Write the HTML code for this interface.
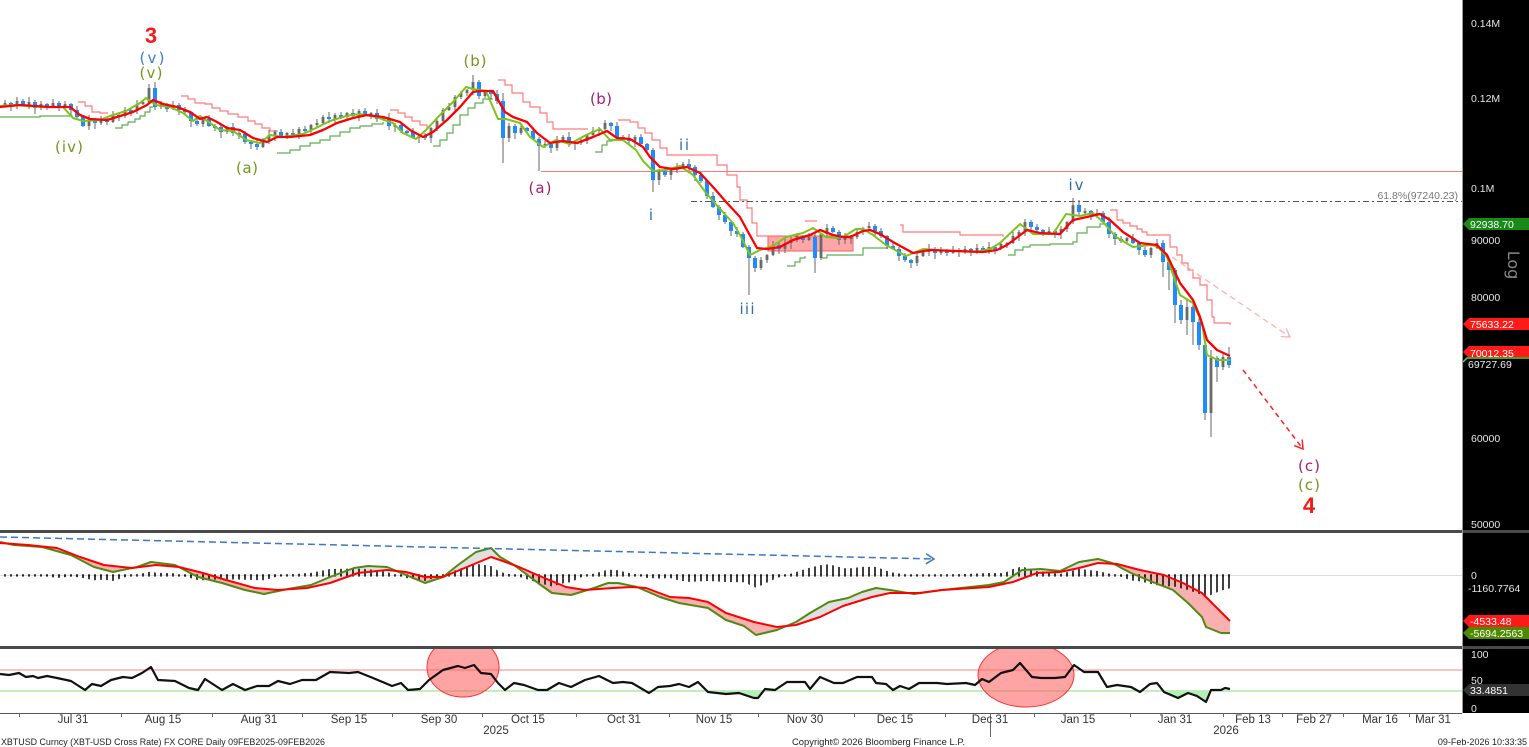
<!DOCTYPE html>
<html><head><meta charset="utf-8">
<style>
html,body{margin:0;padding:0;background:#fff;overflow:hidden;}
svg{display:block;}
</style></head>
<body>
<svg width="1529" height="747" xmlns="http://www.w3.org/2000/svg">
<defs>
<clipPath id="rsiclip"><rect x="0" y="649" width="1462" height="64"/></clipPath>
<clipPath id="rsilow"><rect x="0" y="691" width="1462" height="22"/></clipPath>
<clipPath id="macdclip"><rect x="0" y="533" width="1462" height="113"/></clipPath>
<clipPath id="belowRed"><polygon points="0,543 28,545 57,548 80,557 104,565 132,568 156,565 179,567 203,573 226,580 255,588 278,590 307,588 330,583 358,573 387,570 406,572 425,577 443,577 467,567 491,557 500,560 519,567 542,577 566,587 585,590 613,588 632,587 646,588 670,597 689,598 708,602 726,613 754,622 777,627 796,625 820,617 843,606 872,597 890,593 919,593 942,590 989,587 1013,582 1037,573 1060,572 1079,568 1098,563 1117,564 1140,570 1164,575 1183,583 1202,593 1216,607 1230,621 1230,700 0,700"/></clipPath>
<clipPath id="belowGreen"><polygon points="0,542 14,545 42,547 71,555 94,567 113,572 137,567 151,562 175,565 198,577 222,583 245,590 264,594 288,589 311,585 330,577 354,568 368,566 387,567 406,575 425,583 443,577 458,565 476,552 491,548 500,557 514,565 538,583 552,593 571,595 594,588 608,583 618,583 637,587 660,597 679,603 708,608 726,620 744,626 756,635 777,630 796,622 810,613 829,602 848,598 862,592 876,588 890,590 914,594 942,590 989,585 1004,582 1022,570 1041,569 1060,571 1079,562 1098,559 1112,563 1131,573 1155,583 1173,590 1188,603 1202,617 1206,627 1221,633 1230,633 1230,700 0,700"/></clipPath>
<pattern id="hp" x="2" y="0" width="6" height="10" patternUnits="userSpaceOnUse"><rect x="2.2" y="0" width="1.6" height="10" fill="#111"/></pattern>
</defs>
<rect x="0" y="0" width="1529" height="747" fill="#fff"/>

<!-- ================= MAIN PANEL ================= -->
<g fill="none" stroke="#ff7a7a" stroke-width="1.2">
<path d="M78,102 H85 V106 H92 V112 H100 V113 H108"/>
<path d="M181,96 H188 V99 H195 V103 H205 V104 H212 V108 H220 V111 H228 V114 H238 V117 H248 V121 H255 V124 H262 V128 H270 V131 H277 V132"/>
<path d="M390,110 H398 V113 H405 V117 H412 V121 H420 V125 H427 V128"/>
<path d="M498,80 H505 V85 H512 V93 H523 V102 H530 V107 H540 V113 H547 V122 H553 V129 H588"/>
<path d="M618,120 H630 V122 H638 V128 H645 V133 H652 V140 H660 V148 H667 V155 H710 V155 H717 V165 H727 V175 H737 V187 H740 V200 H747 V208 H752 V223 H757 V236 H768"/>
<path d="M805,221 H817"/>
<path d="M900,225 H903 V232 H960 V235 H1003 V237"/>
<path d="M1110,210 H1117 V220 H1123 V223 H1130 V226 H1137 V229 H1142 V232 H1147 V235 H1170 V247 H1177 V255 H1182 V263 H1188 V270 H1193 V278 H1200 V285 H1207 V300 H1212 V317 H1214 V323 H1230 V325"/>
</g>
<g fill="none" stroke="#5fae55" stroke-width="1.2">
<path d="M0,117 H40 V116 H72 V115"/>
<path d="M115,128 H122 V125 H128 V122 H135 V119 H140 V116 H145 V112 H150 V107 H153"/>
<path d="M277,153 H290 V150 H300 V146 H310 V143 H320 V140 H330 V136 H340 V132 H350 V128 H360 V126 H372 V124 H383 V122"/>
<path d="M433,146 H440 V140 H447 V133 H453 V125 H460 V115 H468 V108 H475 V103 H483 V99 H493"/>
<path d="M595,152 H602 V145 H607 V141 H612 V140"/>
<path d="M787,266 H795 V262 H800 V258 H805 V256"/>
<path d="M822,258 H827 V255 H863 V248 H888"/>
<path d="M1008,255 H1015 V250 H1023 V247 H1030 V245 H1050 V244 H1073 V242 H1077 V233 H1087 V227 H1100 V224 H1107 V223"/>
</g>
<line x1="541" y1="171.5" x2="1462" y2="171.5" stroke="#f77" stroke-width="1"/>
<line x1="691" y1="201.5" x2="1462" y2="201.5" stroke="#555" stroke-width="1" stroke-dasharray="6,3,2,3"/>
<rect x="768" y="236" width="85" height="15" fill="#ff4d4d" fill-opacity="0.5" stroke="#ff5a5a" stroke-width="1"/>

<!-- candle wicks -->
<path fill="none" stroke="#666" stroke-width="1" d="M5 100V106 M11 102V111 M17 97V109 M23 99V106 M29 97V109 M35 100V114 M41 101V110 M47 103V110 M53 99V108 M59 101V111 M65 101V108 M71 103V115 M77 106V120 M83 115V127 M89 115V130 M95 118V129 M101 116V125 M107 118V125 M113 111V123 M119 113V121 M125 107V118 M131 109V116 M137 100V114 M143 100V105 M149 84V104 M155 82V110 M161 101V109 M167 103V112 M173 101V110 M179 103V115 M185 107V114 M191 111V127 M197 118V126 M203 118V127 M209 115V127 M215 124V131 M221 124V138 M227 126V134 M233 123V136 M239 131V139 M245 131V144 M251 141V149 M257 140V150 M263 138V148 M269 130V144 M275 130V141 M281 129V138 M287 132V139 M293 129V135 M299 127V139 M305 126V132 M311 124V135 M317 119V128 M323 115V124 M329 112V123 M335 113V125 M341 112V119 M347 112V120 M353 109V117 M359 109V121 M365 108V116 M371 112V119 M377 109V122 M383 116V120 M389 113V130 M395 123V132 M401 122V133 M407 130V135 M413 128V139 M419 134V143 M425 133V140 M431 127V143 M437 117V131 M443 108V122 M449 103V111 M455 95V112 M461 91V99 M467 89V96 M473 75V95 M479 80V99 M485 90V98 M491 91V99 M497 90V104 M503 93V163 M509 123V142 M515 124V139 M521 125V135 M527 127V134 M533 127V140 M539 137V171 M545 141V148 M551 143V153 M557 136V151 M563 135V141 M569 132V147 M575 140V150 M581 138V145 M587 134V144 M593 127V136 M599 127V136 M605 120V131 M611 122V131 M617 122V140 M623 135V140 M629 134V145 M635 135V147 M641 134V146 M647 143V153 M653 148V192 M659 169V185 M665 168V177 M671 169V180 M677 163V173 M683 162V168 M689 159V171 M695 165V181 M701 172V183 M707 180V199 M713 192V208 M719 205V220 M725 212V224 M731 221V236 M737 227V237 M743 232V248 M749 245V295 M755 256V272 M761 257V270 M767 254V263 M773 241V256 M779 243V254 M785 238V253 M791 236V249 M797 233V242 M803 235V243 M809 233V241 M815 233V273 M821 233V260 M827 224V237 M833 226V233 M839 230V245 M845 233V244 M851 235V244 M857 229V239 M863 227V235 M869 222V229 M875 224V236 M881 228V238 M887 235V249 M893 242V250 M899 247V261 M905 253V262 M911 259V268 M917 252V266 M923 250V257 M929 244V256 M935 247V259 M941 247V255 M947 249V256 M953 246V254 M959 248V257 M965 246V254 M971 248V256 M977 244V254 M983 246V251 M989 242V254 M995 245V254 M1001 241V250 M1007 242V248 M1013 232V244 M1019 230V241 M1025 219V236 M1031 220V233 M1037 224V232 M1043 229V236 M1049 227V234 M1055 229V238 M1061 226V239 M1067 221V232 M1073 198V224 M1079 200V215 M1085 208V214 M1091 210V220 M1097 209V218 M1103 211V223 M1109 217V238 M1115 232V245 M1121 236V243 M1127 237V244 M1133 234V244 M1139 241V255 M1145 247V257 M1151 247V258 M1157 239V249 M1163 240V277 M1169 258V290 M1175 268V323 M1181 300V324 M1187 300V335 M1193 300V345 M1199 318V350 M1205 343V420 M1211 350V437 M1217 356V382 M1223 352V370 M1229 347V368"/>
<!-- down (blue) bodies -->
<path fill="none" stroke="#1e8bff" stroke-width="4" d="M11 103V106 M23 101V105 M35 102V108 M47 104V107 M59 103V106 M71 104V110 M77 110V117 M83 117V126 M95 120V123 M107 119V122 M119 115V117 M131 110V112 M155 88V107 M167 104V109 M179 105V110 M185 110V112 M191 112V121 M197 121V124 M209 119V126 M215 126V128 M221 127V132 M233 127V133 M239 133V135 M245 134V142 M251 142V144 M257 144V147 M281 132V136 M293 133V135 M305 129V131 M329 117V119 M341 115V117 M353 113V116 M365 111V114 M377 113V119 M389 118V126 M401 125V131 M407 131V133 M413 132V138 M425 136V138 M479 82V96 M491 92V94 M497 94V101 M503 101V138 M515 126V133 M527 128V131 M533 131V139 M539 139V146 M551 144V148 M569 137V143 M611 123V126 M617 126V137 M623 137V139 M629 139V141 M641 137V144 M647 144V150 M653 150V180 M665 171V175 M689 164V167 M695 167V175 M701 175V181 M707 181V196 M713 196V207 M719 207V215 M725 215V222 M731 222V231 M737 231V234 M743 234V247 M749 247V258 M755 258V268 M779 245V249 M803 236V240 M815 237V258 M833 228V232 M839 232V240 M875 226V231 M881 231V236 M887 236V246 M893 246V249 M899 249V256 M905 256V260 M911 260V263 M935 249V253 M947 250V253 M959 250V252 M971 249V251 M983 248V250 M995 247V249 M1031 222V227 M1037 227V230 M1043 230V233 M1055 231V233 M1079 205V212 M1091 211V215 M1103 213V222 M1109 222V234 M1115 234V239 M1121 239V241 M1133 238V243 M1139 243V250 M1145 250V255 M1163 243V262 M1169 262V270 M1175 270V305 M1181 305V320 M1193 307V322 M1199 322V345 M1205 345V413 M1217 358V367 M1229 357V365"/>
<!-- up (gray) bodies -->
<path fill="none" stroke="#6a6a6a" stroke-width="2.8" d="M5 103V105 M17 101V106 M29 102V105 M41 104V108 M53 103V107 M65 104V106 M89 120V126 M101 119V123 M113 115V122 M125 110V116 M137 104V111 M143 102V104 M149 88V102 M161 104V107 M173 105V109 M203 119V124 M227 127V132 M263 140V147 M269 135V140 M275 132V135 M287 133V136 M299 129V134 M311 125V130 M317 123V125 M323 117V123 M335 115V119 M347 113V117 M359 111V116 M371 113V115 M383 118V120 M395 125V127 M419 136V138 M431 128V138 M437 121V128 M443 110V121 M449 107V110 M455 97V107 M461 93V97 M467 90V93 M473 82V90 M485 92V96 M509 126V138 M521 128V133 M545 144V146 M557 140V148 M563 137V140 M575 142V144 M581 141V143 M587 135V141 M593 131V135 M599 129V131 M605 123V129 M635 137V141 M659 171V180 M671 170V175 M677 167V170 M683 164V167 M761 260V268 M767 255V260 M773 245V255 M785 243V249 M791 240V243 M797 236V240 M809 237V240 M821 234V258 M827 228V234 M845 238V240 M851 237V239 M857 232V237 M863 228V232 M869 226V228 M917 256V263 M923 252V256 M929 249V252 M941 250V253 M953 250V253 M965 249V252 M977 248V251 M989 247V250 M1001 244V248 M1007 243V245 M1013 236V243 M1019 232V236 M1025 222V232 M1049 231V233 M1061 229V233 M1067 222V229 M1073 205V222 M1085 211V213 M1097 213V215 M1127 238V241 M1151 248V255 M1157 243V248 M1187 307V320 M1211 358V413 M1223 357V367"/>

<!-- moving averages -->
<polyline fill="none" stroke="#7cc41a" stroke-width="2" stroke-linejoin="round" points="0,106 13,105 43,107 63,107 73,118 83,121 100,120 110,116 126,111 140,103 146,98 156,105 170,107 183,113 193,121 200,116 210,123 220,130 233,131 246,140 260,143 270,135 283,137 303,134 316,128 330,121 346,116 360,114 376,117 393,123 403,133 416,139 426,130 440,115 453,102 466,87 473,89 486,91 498,119 506,119 520,123 530,137 543,147 556,140 570,144 586,135 600,129 610,140 623,140 636,150 643,161 653,171 666,170 680,166 693,175 706,193 720,209 733,223 740,235 750,255 760,250 773,246 786,237 803,233 813,228 826,237 836,238 843,237 856,229 863,229 873,235 886,245 906,256 923,249 950,251 976,252 990,249 1000,243 1020,224 1033,234 1053,234 1066,214 1080,216 1093,213 1103,222 1116,237 1133,247 1150,245 1157,246 1167,257 1180,295 1193,303 1202,323 1207,355 1218,360 1230,360"/>
<polyline fill="none" stroke="#ff0000" stroke-width="2.3" stroke-linejoin="round" points="0,107 20,105 50,107 70,107 80,115 90,119 107,120 117,117 133,112 147,105 153,100 163,104 177,107 190,112 200,119 207,117 217,122 227,128 240,130 253,138 267,142 277,137 290,137 310,135 323,130 337,123 353,118 367,115 383,117 400,122 410,130 423,137 433,132 447,120 460,107 473,92 480,91 493,91 505,112 513,117 527,122 537,133 550,143 563,141 577,143 593,137 607,131 617,138 630,139 643,147 650,157 660,167 673,169 687,167 700,173 713,187 727,203 740,217 747,230 757,248 767,249 780,247 793,240 810,235 820,230 833,235 843,237 850,237 863,231 870,230 880,234 893,242 913,253 930,250 957,251 983,252 997,250 1007,245 1027,230 1040,233 1060,234 1073,220 1087,217 1100,214 1110,220 1123,232 1140,243 1157,245 1167,255 1180,283 1193,300 1200,317 1207,340 1217,350 1230,356"/>

<!-- projection arrows -->
<line x1="1172" y1="257" x2="1290" y2="337" stroke="#ffb0b0" stroke-width="1.3" stroke-dasharray="6,4"/>
<polyline points="1280.6,336.6 1290,337 1286.2,328.4" fill="none" stroke="#ffb0b0" stroke-width="1.3"/>
<line x1="1243" y1="370" x2="1303" y2="449" stroke="#ff2020" stroke-width="1.5" stroke-dasharray="5,4"/>
<polyline points="1294.2,445.6 1303,449 1302.2,439.6" fill="none" stroke="#ff2020" stroke-width="1.5"/>

<text x="1458" y="199" font-family="Liberation Sans, sans-serif" font-size="10.5" fill="#777" text-anchor="end">61.8%(97240.23)</text>

<!-- wave labels -->
<g font-family="DejaVu Sans, Liberation Sans, sans-serif" font-size="15" text-anchor="middle">
<text x="151" y="43" font-family="Liberation Sans, sans-serif" font-size="22" font-weight="bold" fill="#f41a1a">3</text>
<text x="152" y="63" fill="#3d7fc4" textLength="25" lengthAdjust="spacing">(v)</text>
<text x="151" y="78" fill="#74961a" textLength="23" lengthAdjust="spacing">(v)</text>
<text x="69" y="152" fill="#74961a" textLength="28" lengthAdjust="spacing">(iv)</text>
<text x="247" y="173" fill="#74961a" textLength="22" lengthAdjust="spacing">(a)</text>
<text x="475" y="66" fill="#74961a" textLength="23" lengthAdjust="spacing">(b)</text>
<text x="601" y="104" fill="#a3206b" textLength="22" lengthAdjust="spacing">(b)</text>
<text x="540" y="193" fill="#a3206b" textLength="23" lengthAdjust="spacing">(a)</text>
<text x="651" y="220" fill="#2e6ea6">i</text>
<text x="684" y="150" fill="#2e6ea6" textLength="10" lengthAdjust="spacing">ii</text>
<text x="747" y="314" fill="#2e6ea6" textLength="15" lengthAdjust="spacing">iii</text>
<text x="1076" y="190" fill="#2e6ea6" textLength="15" lengthAdjust="spacing">iv</text>
<text x="1309" y="471" fill="#a3206b" textLength="22" lengthAdjust="spacing">(c)</text>
<text x="1309" y="490" fill="#74961a" textLength="22" lengthAdjust="spacing">(c)</text>
<text x="1309" y="513" font-family="Liberation Sans, sans-serif" font-size="22" font-weight="bold" fill="#f41a1a">4</text>
</g>

<!-- ================= MACD PANEL ================= -->
<line x1="0" y1="575.5" x2="1462" y2="575.5" stroke="#dcdcdc" stroke-width="1"/>
<g clip-path="url(#macdclip)">
<polygon clip-path="url(#belowRed)" fill="#f9b0b0" points="0,542 14,545 42,547 71,555 94,567 113,572 137,567 151,562 175,565 198,577 222,583 245,590 264,594 288,589 311,585 330,577 354,568 368,566 387,567 406,575 425,583 443,577 458,565 476,552 491,548 500,557 514,565 538,583 552,593 571,595 594,588 608,583 618,583 637,587 660,597 679,603 708,608 726,620 744,626 756,635 777,630 796,622 810,613 829,602 848,598 862,592 876,588 890,590 914,594 942,590 989,585 1004,582 1022,570 1041,569 1060,571 1079,562 1098,559 1112,563 1131,573 1155,583 1173,590 1188,603 1202,617 1206,627 1221,633 1230,633 1230,520 0,520"/>
<polygon clip-path="url(#belowGreen)" fill="#e0e0e0" points="0,543 28,545 57,548 80,557 104,565 132,568 156,565 179,567 203,573 226,580 255,588 278,590 307,588 330,583 358,573 387,570 406,572 425,577 443,577 467,567 491,557 500,560 519,567 542,577 566,587 585,590 613,588 632,587 646,588 670,597 689,598 708,602 726,613 754,622 777,627 796,625 820,617 843,606 872,597 890,593 919,593 942,590 989,587 1013,582 1037,573 1060,572 1079,568 1098,563 1117,564 1140,570 1164,575 1183,583 1202,593 1216,607 1230,621 1230,520 0,520"/>
<rect x="0" y="574.2" width="1232" height="2.4" fill="url(#hp)"/>
<polygon fill="url(#hp)" points="0,574 14,576 28,575.7 42,575.5 57,578 71,576.5 80,577.5 94,580.3 104,579.6 113,581 132,575 137,574.6 151,571.4 156,572.7 175,573.3 179,575 198,580.3 203,580.3 222,579.2 245,579.8 264,580.2 278,576.4 288,574.7 307,573 311,572.9 330,569 354,568.6 368,569 387,572 406,578 425,581 443,575 458,569.2 467,566.5 476,563.7 491,566 500,572 514,575 519,576.8 538,582.7 552,586.5 566,582.6 571,582.2 585,575.4 594,573.6 608,569.6 618,570.3 632,573.7 637,574.6 646,577.9 660,578.6 670,578 679,580.5 689,581.9 708,581 726,582 744,582.2 756,587.7 777,578 796,572 810,567.6 820,565.2 829,564.2 843,568 848,568.6 862,566.9 876,566.9 890,572 914,576 919,575.4 942,575 989,573 1004,573.1 1013,569 1022,566.4 1037,571.2 1041,571.2 1060,574 1079,569 1098,571 1112,574.3 1117,575.3 1131,580.5 1140,581.4 1155,584.9 1164,586.5 1173,586.2 1183,588.9 1188,590 1202,595 1206,597 1211,595 1220,591 1231,588 1231,575 0,575"/>
<polyline fill="none" stroke="#4f8a10" stroke-width="2" stroke-linejoin="round" points="0,542 14,545 42,547 71,555 94,567 113,572 137,567 151,562 175,565 198,577 222,583 245,590 264,594 288,589 311,585 330,577 354,568 368,566 387,567 406,575 425,583 443,577 458,565 476,552 491,548 500,557 514,565 538,583 552,593 571,595 594,588 608,583 618,583 637,587 660,597 679,603 708,608 726,620 744,626 756,635 777,630 796,622 810,613 829,602 848,598 862,592 876,588 890,590 914,594 942,590 989,585 1004,582 1022,570 1041,569 1060,571 1079,562 1098,559 1112,563 1131,573 1155,583 1173,590 1188,603 1202,617 1206,627 1221,633 1230,633"/>
<polyline fill="none" stroke="#ff0000" stroke-width="2" stroke-linejoin="round" points="0,543 28,545 57,548 80,557 104,565 132,568 156,565 179,567 203,573 226,580 255,588 278,590 307,588 330,583 358,573 387,570 406,572 425,577 443,577 467,567 491,557 500,560 519,567 542,577 566,587 585,590 613,588 632,587 646,588 670,597 689,598 708,602 726,613 754,622 777,627 796,625 820,617 843,606 872,597 890,593 919,593 942,590 989,587 1013,582 1037,573 1060,572 1079,568 1098,563 1117,564 1140,570 1164,575 1183,583 1202,593 1216,607 1230,621"/>
<line x1="0" y1="537" x2="934" y2="559" stroke="#3a78c0" stroke-width="1.5" stroke-dasharray="7,4"/>
<polyline points="925.9,563.8 934,559 926.1,553.8" fill="none" stroke="#3a78c0" stroke-width="1.5"/>
</g>

<!-- ================= RSI PANEL ================= -->
<line x1="0" y1="670" x2="1462" y2="670" stroke="#ff8080" stroke-width="1"/>
<line x1="0" y1="691" x2="1462" y2="691" stroke="#7fe07f" stroke-width="1"/>
<g clip-path="url(#rsiclip)">
<ellipse cx="463" cy="667" rx="36" ry="30" fill="#ff5a5a" fill-opacity="0.55" stroke="#ff3030" stroke-width="1"/>
<ellipse cx="1026" cy="675" rx="48" ry="32" fill="#ff5a5a" fill-opacity="0.55" stroke="#ff3030" stroke-width="1"/>
<polygon clip-path="url(#rsilow)" fill="#b6efb6" points="0,674 9,675 19,673 26,677 33,676 38,678 47,676 57,678 71,681 85,690 92,684 101,686 111,680 123,677 132,678 142,673 151,667 158,680 175,681 189,688 198,690 205,679 222,690 233,684 245,690 257,686 269,686 278,681 290,684 302,680 316,680 330,672 349,673 358,672 373,678 392,686 401,683 408,690 420,689 429,680 443,670 458,666 465,668 474,665 481,673 491,674 498,683 505,690 514,683 524,685 538,690 547,690 559,683 571,687 585,680 599,676 613,683 623,682 632,683 649,693 658,687 670,686 679,684 689,687 698,682 708,692 726,694 739,693 754,698 758,698 765,689 775,690 787,682 805,682 810,689 820,677 834,683 843,683 857,677 872,677 876,683 886,684 893,690 900,686 909,689 919,683 937,683 947,684 966,683 975,685 982,679 989,682 1001,673 1013,670 1020,663 1032,677 1041,678 1055,678 1065,677 1074,665 1084,672 1098,672 1107,687 1117,685 1131,687 1140,692 1150,684 1157,683 1164,692 1178,698 1188,693 1197,696 1206,702 1211,690 1221,690 1225,688 1230,689 1230,600 0,600"/>
<polyline fill="none" stroke="#111" stroke-width="2.2" stroke-linejoin="round" points="0,674 9,675 19,673 26,677 33,676 38,678 47,676 57,678 71,681 85,690 92,684 101,686 111,680 123,677 132,678 142,673 151,667 158,680 175,681 189,688 198,690 205,679 222,690 233,684 245,690 257,686 269,686 278,681 290,684 302,680 316,680 330,672 349,673 358,672 373,678 392,686 401,683 408,690 420,689 429,680 443,670 458,666 465,668 474,665 481,673 491,674 498,683 505,690 514,683 524,685 538,690 547,690 559,683 571,687 585,680 599,676 613,683 623,682 632,683 649,693 658,687 670,686 679,684 689,687 698,682 708,692 726,694 739,693 754,698 758,698 765,689 775,690 787,682 805,682 810,689 820,677 834,683 843,683 857,677 872,677 876,683 886,684 893,690 900,686 909,689 919,683 937,683 947,684 966,683 975,685 982,679 989,682 1001,673 1013,670 1020,663 1032,677 1041,678 1055,678 1065,677 1074,665 1084,672 1098,672 1107,687 1117,685 1131,687 1140,692 1150,684 1157,683 1164,692 1178,698 1188,693 1197,696 1206,702 1211,690 1221,690 1225,688 1230,689"/>
</g>

<!-- separators -->
<rect x="0" y="530" width="1529" height="3" fill="#4a4a4a"/>
<rect x="0" y="646" width="1529" height="3" fill="#4a4a4a"/>

<!-- bottom axis -->
<line x1="0" y1="713.5" x2="1462" y2="713.5" stroke="#555" stroke-width="1"/>
<g stroke="#666" stroke-width="1">
<line x1="19.5" y1="713" x2="19.5" y2="717"/><line x1="121.5" y1="713" x2="121.5" y2="717"/>
<line x1="212.5" y1="713" x2="212.5" y2="717"/><line x1="302.5" y1="713" x2="302.5" y2="717"/>
<line x1="392.5" y1="713" x2="392.5" y2="717"/><line x1="482.5" y1="713" x2="482.5" y2="717"/>
<line x1="576.5" y1="713" x2="576.5" y2="717"/><line x1="669.5" y1="713" x2="669.5" y2="717"/>
<line x1="758.5" y1="713" x2="758.5" y2="717"/><line x1="854.5" y1="713" x2="854.5" y2="717"/>
<line x1="945.5" y1="713" x2="945.5" y2="717"/><line x1="990.5" y1="713" x2="990.5" y2="737"/>
<line x1="1034.5" y1="713" x2="1034.5" y2="717"/><line x1="1130.5" y1="713" x2="1130.5" y2="717"/>
<line x1="1223.5" y1="713" x2="1223.5" y2="717"/><line x1="1282.5" y1="713" x2="1282.5" y2="717"/>
<line x1="1343.5" y1="713" x2="1343.5" y2="717"/><line x1="1409.5" y1="713" x2="1409.5" y2="717"/>
</g>
<g font-family="Liberation Sans, sans-serif" font-size="11.5" fill="#333" text-anchor="middle">
<text x="73" y="723">Jul 31</text>
<text x="163" y="723">Aug 15</text>
<text x="259" y="723">Aug 31</text>
<text x="349" y="723">Sep 15</text>
<text x="439" y="723">Sep 30</text>
<text x="528" y="723">Oct 15</text>
<text x="624" y="723">Oct 31</text>
<text x="714" y="723">Nov 15</text>
<text x="805" y="723">Nov 30</text>
<text x="895" y="723">Dec 15</text>
<text x="990" y="723">Dec 31</text>
<text x="1078" y="723">Jan 15</text>
<text x="1175" y="723">Jan 31</text>
<text x="1253" y="723">Feb 13</text>
<text x="1314" y="723">Feb 27</text>
<text x="1380" y="723">Mar 16</text>
<text x="1433" y="723">Mar 31</text>
<text x="496" y="734">2025</text>
<text x="1226" y="734">2026</text>
</g>
<g font-family="Liberation Sans, sans-serif" font-size="9" fill="#222">
<text x="1" y="745" textLength="324" lengthAdjust="spacingAndGlyphs">XBTUSD Curncy (XBT-USD Cross Rate) FX CORE Daily 09FEB2025-09FEB2026</text>
<text x="792" y="745" textLength="173" lengthAdjust="spacingAndGlyphs">Copyright© 2026 Bloomberg Finance L.P.</text>
<text x="1527" y="745" text-anchor="end">09-Feb-2026 10:33:35</text>
</g>

<!-- ================= RIGHT PANEL ================= -->
<rect x="1463" y="0" width="66" height="713" fill="#000"/>
<rect x="1463" y="530" width="66" height="3" fill="#4a4a4a"/>
<rect x="1463" y="646" width="66" height="3" fill="#4a4a4a"/>
<line x1="1462.5" y1="0" x2="1462.5" y2="713" stroke="#9a9a9a" stroke-width="1"/>
<g font-family="Liberation Sans, sans-serif" font-size="10.5" fill="#e6e6e6">
<text x="1471" y="27">0.14M</text>
<text x="1471" y="102">0.12M</text>
<text x="1471" y="192">0.1M</text>
<text x="1471" y="244">90000</text>
<text x="1471" y="301">80000</text>
<text x="1471" y="442">60000</text>
<text x="1471" y="528">50000</text>
<text x="1471" y="579">0</text>
<text x="1468" y="592">-1160.7764</text>
<text x="1471" y="658">100</text>
<text x="1471" y="684">50</text>
<text x="1471" y="712">0</text>
</g>
<text x="1508" y="265" font-family="DejaVu Sans, sans-serif" font-size="16" fill="#8a8a8a" text-anchor="middle" transform="rotate(90 1508 265)">Log</text>
<g font-family="Liberation Sans, sans-serif" font-size="10.5" fill="#fff">
<polygon points="1463,224 1469,218 1529,218 1529,230 1469,230" fill="#178a17"/>
<text x="1470" y="228">92938.70</text>
<polygon points="1463,324 1469,318 1529,318 1529,330 1469,330" fill="#ff1a1a"/>
<text x="1470" y="328">75633.22</text>
<polygon points="1463,352 1469,346 1529,346 1529,358 1469,358" fill="#ff1a1a"/>
<text x="1470" y="357">70012.35</text>
<rect x="1463" y="357" width="66" height="14" fill="#000"/>
<polyline points="1463,362 1467,358 1529,358" fill="none" stroke="#6fcf2f" stroke-width="1.5"/>
<text x="1468" y="368" fill="#eee">69727.69</text>
<polygon points="1463,621 1469,615 1529,615 1529,627 1469,627" fill="#ff1a1a"/>
<text x="1470" y="625">-4533.48</text>
<polygon points="1463,633 1469,627 1529,627 1529,639 1469,639" fill="#4d8a00"/>
<text x="1470" y="637">-5694.2563</text>
<polygon points="1463,690 1469,684 1529,684 1529,696 1469,696" fill="#333"/>
<text x="1470" y="694">33.4851</text>
</g>
</svg>
</body></html>
